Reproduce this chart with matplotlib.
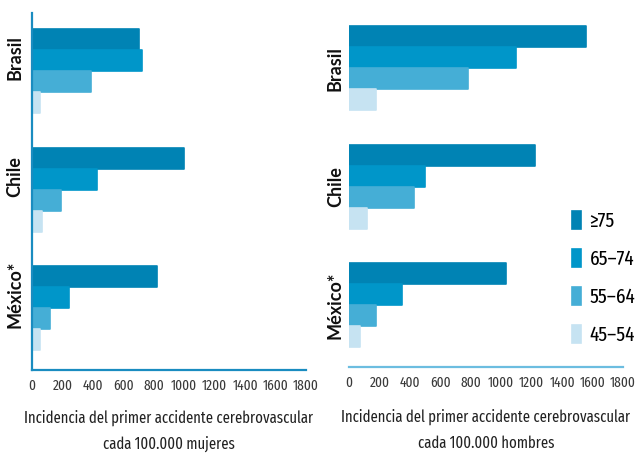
import matplotlib
matplotlib.use('Agg')
import matplotlib.pyplot as plt
import numpy as np

# Datos (incidencia cada 100.000)
paises = ['Brasil', 'Chile', 'México*']
grupos = ['≥75', '65–74', '55–64', '45–54']

mujeres_75 = [700, 1000, 820]
mujeres_65 = [720, 430, 240]
mujeres_55 = [390, 190, 115]
mujeres_45 = [50, 65, 50]

hombres_75 = [1560, 1220, 1030]
hombres_65 = [1100, 500, 350]
hombres_55 = [780, 430, 175]
hombres_45 = [180, 120, 75]

ticks = [0, 200, 400, 600, 800, 1000, 1200, 1400, 1600, 1800]

colores = ['#0083b4', '#0096c9', '#45aed6', '#c6e3f2']
narrow = ['Fira Sans Extra Condensed', 'DejaVu Sans']
negrita = ['Lato', 'DejaVu Sans']

W, H = 639, 455
fig = plt.figure(figsize=(W / 100, H / 100), dpi=100)


def px_axes(left, top, right, bottom):
    return fig.add_axes([left / W, 1 - bottom / H, (right - left) / W, (bottom - top) / H])


def panel(ax, series, spine_color, label_x, label_shift, xlabel, marks, tick_dir, lpad):
    pitch = 5.64
    bars = []
    for k, vals in enumerate(series):
        y = 0.78 + np.arange(len(paises)) * pitch + k + 0.5
        b = ax.barh(y, vals, height=1.0, color=colores[k], edgecolor=colores[k],
                    linewidth=1.2, joinstyle='round', label=grupos[k])
        bars.append(b)
    ax.set_xlim(0, 1800)
    ax.set_ylim(17, 0)
    for s in ['top', 'right']:
        ax.spines[s].set_visible(False)
    ax.spines['bottom'].set_color(spine_color)
    ax.spines['bottom'].set_linewidth(1.6)
    ax.spines['left'].set_color(spine_color)
    ax.spines['left'].set_linewidth(1.6)
    ax.set_yticks([])
    ax.set_xticks(ticks)
    ax.set_xticklabels([str(t) for t in ticks], family=narrow, fontsize=10.5, color='#3a3a3a')
    ax.tick_params(axis='x', which='major', length=0, pad=6)
    ax.set_xticks(marks, minor=True)
    ax.tick_params(axis='x', which='minor', length=4, width=1.2, color=spine_color,
                   direction=tick_dir)
    ax.set_xlabel(xlabel, family=narrow, fontsize=11.5, color='#222222',
                  linespacing=1.8, labelpad=lpad)
    centers = 0.78 + np.arange(len(paises)) * pitch + 2 - label_shift
    for c, p in zip(centers, paises):
        ax.text(label_x, c, p, rotation=90, ha='center', va='center',
                fontsize=13, fontweight='bold', family=negrita, color='#111111',
                transform=ax.get_yaxis_transform())
    return bars


ax1 = px_axes(32, 13, 306, 370)
panel(ax1, [mujeres_75, mujeres_65, mujeres_55, mujeres_45], '#1a8cc0', -0.062, 0.65,
      'Incidencia del primer accidente cerebrovascular\ncada 100.000 mujeres',
      [0, 200, 400, 600, 1000, 1400, 1800], 'in', 12)

ax2 = px_axes(349, 10, 623, 367)
bars = panel(ax2, [hombres_75, hombres_65, hombres_55, hombres_45], '#6cbde0', -0.05, 0.0,
             'Incidencia del primer accidente cerebrovascular\ncada 100.000 hombres',
             [0, 200, 400, 600, 800, 1000, 1200, 1600, 1800], 'out', 14)
ax2.spines['left'].set_visible(False)

fig.legend(bars, grupos, loc='upper left', bbox_to_anchor=(572 / W, 1 - 211 / H),
           frameon=False, handlelength=0.45, handleheight=0.95, labelspacing=0.85,
           handletextpad=0.4, borderpad=0, borderaxespad=0,
           prop={'family': narrow, 'size': 15})

fig.savefig('out.png', dpi=100)
